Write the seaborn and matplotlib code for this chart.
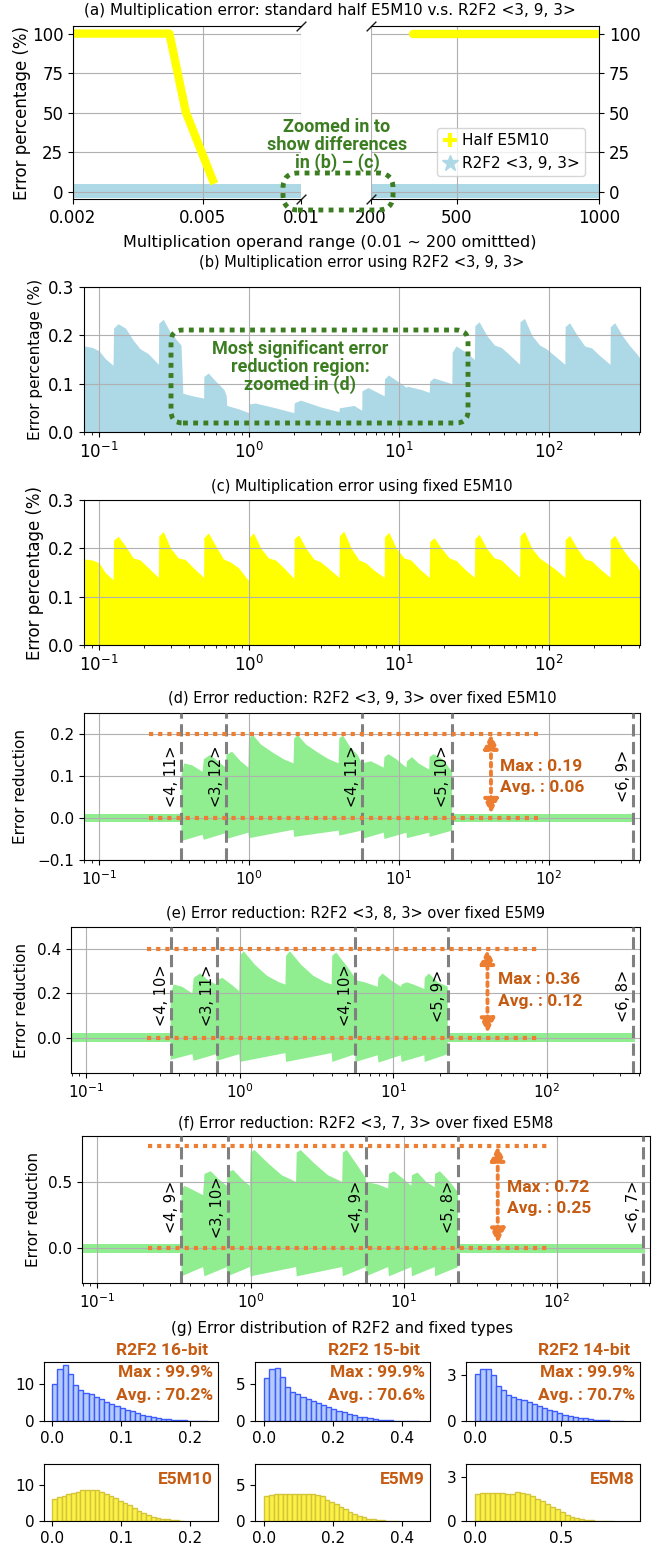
import numpy as np
import pandas as pd
import matplotlib
matplotlib.use("Agg")
import matplotlib.pyplot as plt
import matplotlib.transforms as mtransforms
from matplotlib.patches import FancyBboxPatch
from matplotlib.lines import Line2D
from matplotlib.ticker import FixedLocator, FixedFormatter, NullLocator, LogLocator, NullFormatter
import seaborn as sns

# ---------------- data ----------------
# (a) full operand range, left part (log) and right part (linear)
a_left_ticks = [0.002, 0.005, 0.01]
a_right_ticks = [200, 500, 1000]
half_left_x = [0.002, 0.00395, 0.00444, 0.00496, 0.00542]
half_left_y = [100, 100, 50, 25, 5]
half_right_x = [347, 1000]
half_right_y = [100, 100]
r2f2_band_left_x = [0.002, 0.01]
r2f2_band_right_x = [200, 1000]
r2f2_band_lo = -4.0
r2f2_band_hi = 5.2

# (b) R2F2 <3, 9, 3> multiplication error (%)
b_x = [0.0794, 0.09, 0.1, 0.11, 0.124,
       0.125, 0.134, 0.15, 0.169, 0.188, 0.213, 0.249,
       0.25, 0.268, 0.30, 0.33, 0.352, 0.362,
       0.42, 0.498,
       0.5, 0.535, 0.60, 0.68, 0.705,
       0.71, 0.85, 0.995,
       1.0, 1.1, 1.5, 1.99,
       2.0, 2.2, 3.0, 3.98,
       4.0, 5.0, 5.64,
       5.66, 6.2, 7.96,
       8.0, 8.5, 11.25,
       11.3, 14.0, 15.9,
       16.0, 17.0, 22.5,
       22.6, 24.0, 28.0, 31.8,
       32.0, 34.2, 38.4, 43.2, 48.0, 54.4, 63.7,
       64.0, 68.5, 76.8, 86.4, 96.0, 109.0, 127.4,
       128.0, 137.0, 154.0, 173.0, 192.0, 218.0, 255.0,
       256.0, 274.0, 307.0, 346.0, 384.0, 404.0]
b_y = [0.178, 0.175, 0.168, 0.152, 0.138,
       0.215, 0.224, 0.215, 0.19, 0.172, 0.162, 0.14,
       0.225, 0.233, 0.205, 0.19, 0.18, 0.08,
       0.075, 0.07,
       0.115, 0.122, 0.105, 0.088, 0.075,
       0.055, 0.048, 0.04,
       0.058, 0.06, 0.05, 0.04,
       0.06, 0.066, 0.052, 0.042,
       0.05, 0.055, 0.045,
       0.085, 0.092, 0.075,
       0.11, 0.118, 0.092,
       0.095, 0.088, 0.082,
       0.105, 0.112, 0.1,
       0.165, 0.178, 0.165, 0.15,
       0.22, 0.228, 0.2, 0.18, 0.175, 0.16, 0.14,
       0.228, 0.235, 0.2, 0.18, 0.172, 0.158, 0.14,
       0.218, 0.226, 0.2, 0.178, 0.174, 0.158, 0.14,
       0.218, 0.226, 0.2, 0.178, 0.162, 0.152]

# (c) fixed E5M10 multiplication error (%)
c_x = [0.0794, 0.09, 0.1, 0.11, 0.124,
       0.125, 0.134, 0.15, 0.169, 0.188, 0.213, 0.249,
       0.25, 0.268, 0.30, 0.338, 0.375, 0.425, 0.498,
       0.5, 0.535, 0.60, 0.675, 0.75, 0.85, 0.995,
       1.0, 1.07, 1.2, 1.35, 1.5, 1.7, 1.99,
       2.0, 2.14, 2.4, 2.7, 3.0, 3.4, 3.98,
       4.0, 4.28, 4.8, 5.4, 6.0, 6.8, 7.96,
       8.0, 8.56, 9.6, 10.8, 12.0, 13.6, 15.9,
       16.0, 17.1, 19.2, 21.6, 24.0, 27.2, 31.8,
       32.0, 34.2, 38.4, 43.2, 48.0, 54.4, 63.7,
       64.0, 68.5, 76.8, 86.4, 96.0, 109.0, 127.4,
       128.0, 137.0, 154.0, 173.0, 192.0, 218.0, 255.0,
       256.0, 274.0, 307.0, 346.0, 384.0, 404.0]
c_y = [0.178, 0.176, 0.17, 0.15, 0.135,
       0.217, 0.225, 0.205, 0.18, 0.176, 0.16, 0.14,
       0.225, 0.235, 0.2, 0.18, 0.177, 0.16, 0.14,
       0.222, 0.232, 0.205, 0.178, 0.172, 0.16, 0.133,
       0.222, 0.232, 0.2, 0.18, 0.176, 0.16, 0.138,
       0.22, 0.228, 0.2, 0.178, 0.172, 0.158, 0.14,
       0.226, 0.236, 0.2, 0.176, 0.17, 0.155, 0.14,
       0.224, 0.233, 0.2, 0.18, 0.176, 0.158, 0.14,
       0.214, 0.222, 0.2, 0.18, 0.175, 0.158, 0.14,
       0.22, 0.229, 0.2, 0.18, 0.176, 0.16, 0.14,
       0.226, 0.235, 0.2, 0.18, 0.17, 0.158, 0.14,
       0.218, 0.227, 0.2, 0.178, 0.174, 0.158, 0.14,
       0.218, 0.227, 0.2, 0.178, 0.165, 0.152]

# (d)-(f) error reduction envelopes (upper / lower edge of the scattered region)
d_up_x = [0.354, 0.37, 0.42, 0.49, 0.5, 0.55, 0.62, 0.70, 0.707, 0.77, 0.88, 0.99,
          1.0, 1.06, 1.2, 1.45, 1.7, 1.98, 2.0, 2.12, 2.4, 2.9, 3.4, 3.96,
          4.0, 4.24, 4.7, 5.3, 5.64, 5.66, 6.5, 7.9, 8.0, 8.5, 9.6, 11.2,
          11.3, 12.2, 13.5, 15.9, 16.0, 17.0, 19.5, 22.6]
d_up_y = [0.10, 0.13, 0.125, 0.11, 0.14, 0.15, 0.135, 0.12, 0.15, 0.158, 0.135, 0.12,
          0.19, 0.198, 0.175, 0.155, 0.14, 0.13, 0.19, 0.197, 0.175, 0.155, 0.14, 0.13,
          0.19, 0.196, 0.17, 0.15, 0.13, 0.13, 0.135, 0.12, 0.145, 0.152, 0.14, 0.12,
          0.135, 0.145, 0.13, 0.115, 0.145, 0.152, 0.14, 0.11]
lo_x = [0.354, 0.49, 0.5, 0.70, 0.707, 0.99, 1.0, 1.98, 2.0, 3.96,
        4.0, 5.64, 5.66, 7.9, 8.0, 11.2, 11.3, 15.9, 16.0, 22.6]
d_lo_y = [-0.055, -0.04, -0.052, -0.036, -0.05, -0.035, -0.048, -0.028, -0.045, -0.03,
          -0.042, -0.03, -0.05, -0.035, -0.05, -0.035, -0.048, -0.035, -0.045, -0.03]

e_up_x = [0.354, 0.37, 0.42, 0.49, 0.5, 0.55, 0.62, 0.70, 0.707, 0.77, 0.88, 0.99,
          1.0, 1.06, 1.25, 1.5, 1.8, 1.98, 2.0, 2.12, 2.5, 3.0, 3.6, 3.96,
          4.0, 4.24, 5.0, 5.64, 5.66, 6.5, 7.9, 8.0, 8.5, 9.6, 11.2,
          11.3, 12.2, 13.5, 15.9, 16.0, 17.0, 19.5, 22.6]
e_up_y = [0.19, 0.24, 0.23, 0.2, 0.27, 0.29, 0.26, 0.24, 0.26, 0.27, 0.24, 0.21,
          0.37, 0.39, 0.33, 0.28, 0.25, 0.24, 0.37, 0.39, 0.33, 0.28, 0.25, 0.24,
          0.37, 0.385, 0.32, 0.27, 0.26, 0.25, 0.23, 0.27, 0.29, 0.26, 0.23,
          0.24, 0.25, 0.24, 0.22, 0.27, 0.29, 0.25, 0.23]
e_lo_y = [-0.10, -0.075, -0.105, -0.075, -0.105, -0.075, -0.11, -0.07, -0.11, -0.07,
          -0.11, -0.075, -0.11, -0.08, -0.113, -0.08, -0.11, -0.08, -0.11, -0.075]

f_up_x = [0.354, 0.37, 0.42, 0.49, 0.5, 0.55, 0.62, 0.70, 0.707, 0.77, 0.88, 0.99,
          1.0, 1.06, 1.3, 1.6, 1.98, 2.0, 2.12, 2.6, 3.2, 3.96,
          4.0, 4.24, 5.0, 5.64, 5.66, 6.8, 7.9, 8.0, 8.6, 10.0, 11.2,
          11.3, 12.3, 14.0, 15.9, 16.0, 17.2, 20.0, 22.6]
f_up_y = [0.44, 0.47, 0.44, 0.40, 0.56, 0.58, 0.52, 0.47, 0.57, 0.59, 0.52, 0.47,
          0.72, 0.74, 0.64, 0.55, 0.5, 0.72, 0.74, 0.64, 0.55, 0.5,
          0.72, 0.74, 0.62, 0.53, 0.5, 0.48, 0.45, 0.56, 0.58, 0.52, 0.47,
          0.55, 0.57, 0.5, 0.46, 0.56, 0.58, 0.5, 0.42]
f_lo_y = [-0.21, -0.14, -0.21, -0.14, -0.21, -0.14, -0.21, -0.14, -0.21, -0.14,
          -0.21, -0.14, -0.21, -0.14, -0.21, -0.14, -0.21, -0.14, -0.21, -0.14]

zero_band_x = [0.0794, 375]
zero_band_half = {"d": 0.009, "e": 0.02, "f": 0.033}

format_switch_x = [0.354, 0.707, 5.66, 22.6, 362]
d_formats = ["<4, 11>", "<3, 12>", "<4, 11>", "<5, 10>", "<6, 9>"]
e_formats = ["<4, 10>", "<3, 11>", "<4, 10>", "<5, 9>", "<6, 8>"]
f_formats = ["<4, 9>", "<3, 10>", "<4, 9>", "<5, 8>", "<6, 7>"]

guide_levels = {"d": (0.0, 0.2), "e": (0.0, 0.4), "f": (0.0, 0.77)}
guide_span = {"d": (0.215, 84), "e": (0.25, 86), "f": (0.215, 86)}
reduction_stats = {"d": ("0.19", "0.06"), "e": ("0.36", "0.12"), "f": ("0.72", "0.25")}

# (g) error distributions (bar heights)
hist_r2f2_16 = [10.0, 13.8, 15.1, 12.7, 9.6, 8.2, 7.5, 7.1, 6.4, 5.8, 5.1, 4.5, 3.9, 3.5,
                3.0, 2.6, 2.1, 1.7, 1.3, 1.1, 0.8, 0.6, 0.45, 0.35, 0.25, 0.2, 0.1,
                0.05, 0.03, 0.02]
hist_r2f2_15 = [5.7, 6.9, 7.1, 5.9, 4.6, 3.9, 3.6, 3.2, 2.9, 2.7, 2.4, 2.1, 1.9, 1.65,
                1.4, 1.2, 1.0, 0.8, 0.6, 0.5, 0.35, 0.27, 0.18, 0.13, 0.08, 0.05, 0.03,
                0.02, 0.01, 0.01]
hist_r2f2_14 = [3.06, 3.4, 3.45, 3.0, 2.28, 2.06, 1.73, 1.58, 1.47, 1.36, 1.23, 1.1, 0.96,
                0.85, 0.74, 0.63, 0.53, 0.42, 0.33, 0.26, 0.22, 0.17, 0.13, 0.09, 0.06,
                0.04, 0.03, 0.02, 0.01]
hist_e5m10 = [6.1, 6.6, 6.9, 7.4, 7.9, 8.1, 8.6, 8.6, 8.6, 8.6, 8.1, 7.5, 6.9, 6.3, 5.6,
              4.9, 4.3, 3.5, 2.9, 2.3, 1.7, 1.2, 0.7, 0.55, 0.45, 0.3, 0.15, 0.05]
hist_e5m9 = [3.5, 3.6, 3.7, 3.7, 3.8, 3.8, 3.8, 3.8, 3.8, 3.8, 3.75, 3.6, 3.4, 2.9, 2.7,
             2.35, 2.0, 1.6, 1.3, 1.0, 0.7, 0.5, 0.33, 0.23, 0.14, 0.08, 0.04, 0.02, 0.01]
hist_e5m8 = [1.83, 1.94, 1.94, 1.94, 1.94, 1.9, 1.87, 1.87, 1.96, 1.92, 1.87, 1.7, 1.53,
             1.38, 1.15, 0.97, 0.79, 0.59, 0.41, 0.29, 0.18, 0.14, 0.1, 0.06, 0.03, 0.02,
             0.01, 0.01]
hist_bin_width = {"16": 0.0075, "15": 0.015, "14": 0.03, "M10": 0.0068, "M9": 0.0135, "M8": 0.029}
r2f2_labels = ["R2F2 16-bit", "R2F2 15-bit", "R2F2 14-bit"]
fixed_labels = ["E5M10", "E5M9", "E5M8"]
r2f2_max = ["99.9%", "99.9%", "99.9%"]
r2f2_avg = ["70.2%", "70.6%", "70.7%"]

# ---------------- style ----------------
sns.set_theme(style="ticks", rc={
    "axes.edgecolor": "black", "axes.linewidth": 0.8, "axes.axisbelow": "line",
    "text.color": "black", "axes.labelcolor": "black",
    "xtick.color": "black", "ytick.color": "black",
    "xtick.major.size": 3.5, "ytick.major.size": 3.5,
    "xtick.minor.size": 2.0, "ytick.minor.size": 2.0,
    "xtick.major.width": 0.8, "ytick.major.width": 0.8,
    "xtick.minor.width": 0.6, "ytick.minor.width": 0.6,
})
plt.rcParams["font.family"] = ["DejaVu Sans"]

GRID = "#b0b0b0"
GREEN = "#3c7d22"
ORANGE = "#ED7D31"
DARK_ORANGE = "#C55A11"
BOLD = ["Roboto", "DejaVu Sans"]

W, H = 662, 1546
fig = plt.figure(figsize=(W / 100, H / 100), dpi=100)


def rect(l, t, r, b):
    return [l / W, 1 - b / H, (r - l) / W, (b - t) / H]


def fxy(x, y):
    return x / W, 1 - y / H


# ---------------- (a) ----------------
axL = fig.add_axes(rect(73, 26, 301, 199))
axR = fig.add_axes(rect(371, 26, 599, 199))
for ax in (axL, axR):
    ax.set_ylim(-4.6, 104.8)
    ax.set_yticks([0, 25, 50, 75, 100])
    ax.grid(True, color=GRID, lw=0.8)
    ax.tick_params(labelsize=12)

axL.set_xscale("log")
axL.set_xlim(a_left_ticks[0], a_left_ticks[-1])
axL.xaxis.set_major_locator(FixedLocator(a_left_ticks))
axL.xaxis.set_major_formatter(FixedFormatter([f"{v:g}" for v in a_left_ticks]))
axL.xaxis.set_minor_locator(NullLocator())
axR.set_xlim(a_right_ticks[0], a_right_ticks[-1])
axR.set_xticks(a_right_ticks)
axL.spines["right"].set_visible(False)
axR.spines["left"].set_visible(False)
axR.yaxis.tick_right()
axR.tick_params(axis="y", left=False, labelleft=False, right=True, labelright=True)

axL.fill_between(r2f2_band_left_x, r2f2_band_lo, r2f2_band_hi, color="lightblue", lw=0)
axR.fill_between(r2f2_band_right_x, r2f2_band_lo, r2f2_band_hi, color="lightblue", lw=0)
axL.plot(half_left_x, half_left_y, color="yellow", lw=6, solid_capstyle="butt",
         solid_joinstyle="round")
axR.plot(half_right_x, half_right_y, color="yellow", lw=6, solid_capstyle="round")

brk = dict(marker=[(-1, -1), (1, 1)], markersize=7, linestyle="none", color="k",
           mec="k", mew=1, clip_on=False)
axL.plot([1, 1], [0, 1], transform=axL.transAxes, **brk)
axR.plot([0, 0], [0, 1], transform=axR.transAxes, **brk)

handles = [Line2D([], [], marker="+", color="yellow", ls="none", ms=10, mew=3),
           Line2D([], [], marker="*", color="lightblue", ls="none", ms=12)]
axR.legend(handles, ["Half E5M10", "R2F2 <3, 9, 3>"], loc="upper left",
           bbox_to_anchor=(0.29, 0.41), borderaxespad=0, fontsize=11,
           handlelength=1.0, handletextpad=0.3, borderpad=0.35, framealpha=0.8)

axL.set_ylabel("Error percentage (%)", fontsize=12, va="center")
axL.yaxis.set_label_coords((22 - 73) / 228, 0.5)
fig.text(*fxy(330, 10), "(a) Multiplication error: standard half E5M10 v.s. R2F2 <3, 9, 3>",
         ha="center", va="center", fontsize=11)
fig.text(*fxy(330, 243), "Multiplication operand range (0.01 ~ 200 omittted)",
         ha="center", va="center", fontsize=11.5)
fig.text(*fxy(337, 145), "Zoomed in to\nshow differences\nin (b) \u2013 (c)", ha="center",
         va="center", fontsize=13, color=GREEN, family=BOLD, weight="bold", linespacing=1.0)
fig.add_artist(FancyBboxPatch((2.83, (H - 210) / 100), 1.10, 0.37,
                              boxstyle="round,pad=0,rounding_size=0.15",
                              transform=fig.dpi_scale_trans, fill=False, ec=GREEN,
                              lw=3.5, ls=(0, (1, 1.1)), clip_on=False))


# ---------------- (b)-(f) ----------------
def log_panel(box, ylim, yticks, ylabel, label_x, title, title_y, fs_tick=11, fs_label=11):
    ax = fig.add_axes(rect(*box))
    ax.set_xscale("log")
    ax.set_xlim(0.0794, 404)
    ax.set_ylim(*ylim)
    ax.set_yticks(yticks)
    ax.xaxis.set_major_locator(LogLocator(base=10, numticks=12))
    ax.xaxis.set_minor_locator(LogLocator(base=10, subs=np.arange(2, 10), numticks=12))
    ax.xaxis.set_minor_formatter(NullFormatter())
    ax.grid(True, which="major", color=GRID, lw=0.8)
    ax.tick_params(labelsize=fs_tick)
    ax.set_ylabel(ylabel, fontsize=fs_label, va="center")
    ax.yaxis.set_label_coords((label_x - box[0]) / (box[2] - box[0]), 0.5)
    fig.text(*fxy((box[0] + box[2]) / 2, title_y), title, ha="center", va="center",
             fontsize=10.5)
    return ax


axb = log_panel((84, 287, 640, 432), (0, 0.3), [0, 0.1, 0.2, 0.3], "Error percentage (%)",
                36, "(b) Multiplication error using R2F2 <3, 9, 3>", 263, fs_tick=12)
axb.fill_between(b_x, 0, b_y, color="lightblue", lw=0)
fig.text(*fxy(300, 367), "Most significant error\nreduction region:\nzoomed in (d)",
         ha="center", va="center", fontsize=13, color=GREEN, family=BOLD,
         weight="bold", linespacing=1.0)
fig.add_artist(FancyBboxPatch((1.71, (H - 423) / 100), 2.97, 0.93,
                              boxstyle="round,pad=0,rounding_size=0.12",
                              transform=fig.dpi_scale_trans, fill=False, ec=GREEN,
                              lw=3.5, ls=(0, (1, 1.1)), clip_on=False))

axc = log_panel((84, 500, 640, 645), (0, 0.3), [0, 0.1, 0.2, 0.3], "Error percentage (%)",
                35, "(c) Multiplication error using fixed E5M10", 487, fs_tick=12, fs_label=12)
axc.fill_between(c_x, 0, c_y, color="yellow", lw=0)


def reduction_panel(ax, key, up_x, up_y, lo_y, formats, fmt_y, text_y, text_x, arrow_x):
    half = zero_band_half[key]
    ax.fill_between(zero_band_x, -half, half, color="lightgreen", lw=0)
    ax.fill(np.r_[up_x, lo_x[::-1]], np.r_[up_y, lo_y[::-1]], color="lightgreen", lw=0)
    off = mtransforms.offset_copy(ax.transData, fig=fig, x=-1.5, units="points")
    for x, lab in zip(format_switch_x, formats):
        ax.axvline(x, color="gray", ls=(0, (4, 1.8)), lw=2.2, zorder=3)
        ax.text(x, fmt_y, lab, rotation=90, ha="right", va="center", fontsize=10.5,
                transform=off, zorder=4)
    lo, hi = guide_levels[key]
    x0, x1 = guide_span[key]
    for lvl in (lo, hi):
        ax.plot([x0, x1], [lvl, lvl], color=ORANGE, lw=3, ls=(0, (1, 1.2)), zorder=4)
    span = hi - lo
    ax.annotate("", xy=(arrow_x, hi), xytext=(arrow_x, lo + 0.05 * span),
                arrowprops=dict(arrowstyle="<|-|>,head_length=0.7,head_width=0.35",
                                color=ORANGE, lw=2.8, ls=(0, (1, 1.2)),
                                shrinkA=0, shrinkB=0), zorder=5)
    mx, av = reduction_stats[key]
    ax.text(text_x, text_y[0], f"Max : {mx}", color=DARK_ORANGE, fontsize=12.5,
            family=BOLD, weight="bold", va="center", ha="left", zorder=5)
    ax.text(text_x, text_y[1], f"Avg. : {av}", color=DARK_ORANGE, fontsize=12.5,
            family=BOLD, weight="bold", va="center", ha="left", zorder=5)


axd = log_panel((84, 713, 640, 860), (-0.1, 0.25), [-0.1, 0.0, 0.1, 0.2], "Error reduction",
                21, "(d) Error reduction: R2F2 <3, 9, 3> over fixed E5M10", 698)
reduction_panel(axd, "d", d_up_x, d_up_y, d_lo_y, d_formats, 0.1, (0.123, 0.072), 47, 41)

axe = log_panel((71, 927, 640, 1073), (-0.16, 0.5), [0.0, 0.2, 0.4], "Error reduction",
                22, "(e) Error reduction: R2F2 <3, 8, 3> over fixed E5M9", 913)
reduction_panel(axe, "e", e_up_x, e_up_y, e_lo_y, e_formats, 0.19, (0.264, 0.164), 48, 41)

axf = log_panel((82, 1136, 650, 1283), (-0.26, 0.845), [0.0, 0.5], "Error reduction",
                34, "(f) Error reduction: R2F2 <3, 7, 3> over fixed E5M8", 1123)
reduction_panel(axf, "f", f_up_x, f_up_y, f_lo_y, f_formats, 0.31, (0.46, 0.30), 47, 41)

# ---------------- (g) ----------------
fig.text(*fxy(342, 1328), "(g) Error distribution of R2F2 and fixed types", ha="center",
         va="center", fontsize=11)
cols = [(44, 218), (255, 430), (466, 640)]
top_hists = [(hist_r2f2_16, hist_bin_width["16"]), (hist_r2f2_15, hist_bin_width["15"]),
             (hist_r2f2_14, hist_bin_width["14"])]
bot_hists = [(hist_e5m10, hist_bin_width["M10"]), (hist_e5m9, hist_bin_width["M9"]),
             (hist_e5m8, hist_bin_width["M8"])]
col_xlim = [(-0.012, 0.24), (-0.027, 0.482), (-0.054, 0.963)]
col_xticks = [[0.0, 0.1, 0.2], [0.0, 0.2, 0.4], [0.0, 0.5]]
col_ylim = [15.8, 7.9, 3.88]
col_yticks = [[0, 10], [0, 5], [0, 3]]


def draw_hist(ax, heights, width, face, edge):
    n = len(heights)
    centers = (np.arange(n) + 0.5) * width
    frame = pd.DataFrame({"error": centers, "share": heights})
    sns.histplot(data=frame, x="error", weights="share", bins=n, binrange=(0, n * width),
                 ax=ax, color=face, edgecolor=edge, linewidth=1.0, alpha=1.0)
    ax.set_ylabel("")
    ax.set_xlabel("")


for i, (l, r) in enumerate(cols):
    axt = fig.add_axes(rect(l, 1362, r, 1421))
    axbm = fig.add_axes(rect(l, 1464, r, 1521))
    draw_hist(axt, top_hists[i][0], top_hists[i][1], "#b4cbfa", "#3c5cff")
    draw_hist(axbm, bot_hists[i][0], bot_hists[i][1], "#fbf246", "#d4c43a")
    for ax in (axt, axbm):
        ax.set_xlim(*col_xlim[i])
        ax.set_ylim(0, col_ylim[i])
        ax.set_xticks(col_xticks[i])
        ax.set_yticks(col_yticks[i])
        ax.tick_params(labelsize=11)
    w = r - l
    axt.text(1 - 10 / w, 1.2, r2f2_labels[i], transform=axt.transAxes, ha="right",
             va="center", color=DARK_ORANGE, fontsize=12.5, family=BOLD, weight="bold")
    axt.text(0.97, 0.83, f"Max : {r2f2_max[i]}", transform=axt.transAxes, ha="right",
             va="center", color=DARK_ORANGE, fontsize=12.5, family=BOLD, weight="bold")
    axt.text(0.97, 0.44, f"Avg. : {r2f2_avg[i]}", transform=axt.transAxes, ha="right",
             va="center", color=DARK_ORANGE, fontsize=12.5, family=BOLD, weight="bold")
    axbm.text(0.97, 0.72, fixed_labels[i], transform=axbm.transAxes, ha="right",
              va="center", color=DARK_ORANGE, fontsize=12.5, family=BOLD, weight="bold")

fig.savefig("out.png", dpi=100)
